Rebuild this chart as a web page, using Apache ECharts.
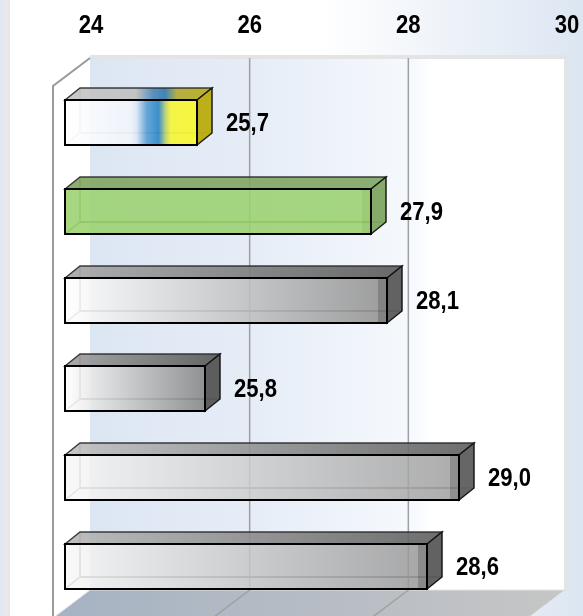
<!DOCTYPE html>
<html><head><meta charset="utf-8">
<style>html,body{margin:0;padding:0;background:#fff}#c{width:583px;height:616px}</style>
<script src="https://cdn.jsdelivr.net/npm/echarts@6/dist/echarts.min.js"></script></head>
<body><div id="c"></div>
<script>
var categories = ['A','B','C','D','E','F'];
var values = [25.7, 27.9, 28.1, 25.8, 29.0, 28.6];
var tickValues = [24, 26, 28, 30];
var tickLabels = ['24', '26', '28', '30'];
var FONT = '"Liberation Sans",Arial,sans-serif';
var DX = 15, DY = 12, H = 45, X0 = 65, BACK_GAP = 14, NARROW = 0.85;
function lg(x1,x2,stops){return {type:'linear',x:x1,y:0,x2:x2,y2:0,global:true,colorStops:stops.map(function(s){return {offset:s[0],color:s[1]};})};}
var styles = [
 {front:[[0,'#ffffff'],[.5,'#f0f4fb'],[.54,'#dde8f4'],[.62,'#5aa0d6'],[.71,'#2f86c6'],[.76,'#b8d070'],[.8,'#f5f53a'],[1,'#f8f82e']],
  top:[[0,'#c4c4c4'],[.48,'#c0c0c0'],[.6,'#4a86b8'],[.68,'#2f78b0'],[.76,'#b0a830'],[1,'#b8aa10']], side:'#b8ad0e', inner:'#999999', band:'rgba(120,120,40,0)', op:.92},
 {front:[[0,'#9bd170'],[1,'#9bd170']], top:[[0,'#7fa562'],[1,'#7fa562']], side:'#7fa562', inner:'#5c8a42', band:'rgba(90,130,60,.12)', op:.88},
 {front:[[0,'#ffffff'],[1,'#8e8e8e']], top:[[0,'#a8a8a8'],[1,'#585858']], side:'#5a5a5a', inner:'#777777', band:'rgba(60,60,60,.28)', op:.86},
 {front:[[0,'#ffffff'],[1,'#828282']], top:[[0,'#a0a0a0'],[1,'#555555']], side:'#555555', inner:'#777777', band:'rgba(60,60,60,0)', op:.86},
 {front:[[0,'#f8f8f8'],[1,'#9a9a9a']], top:[[0,'#c0c0c0'],[1,'#5e5e5e']], side:'#5e5e5e', inner:'#8a8a8a', band:'rgba(60,60,60,.28)', op:.82},
 {front:[[0,'#f8f8f8'],[1,'#949494']], top:[[0,'#b8b8b8'],[1,'#5e5e5e']], side:'#5a5a5a', inner:'#7a7a7a', band:'rgba(60,60,60,.28)', op:.82}
];
function frame(params, api){
  var L=90,R=565,T=58,B=590,LX=53,LY=86,BY=618;
  return {type:'group',children:[
    {type:'rect',shape:{x:L,y:T,width:R-L,height:B-T},style:{fill:lg(L,R,[[0,'#dce6f3'],[.35,'#e6edf7'],[.68,'#f6f9fd'],[.72,'#ffffff'],[1,'#ffffff']])}},
    {type:'rect',shape:{x:L,y:55,width:R-L+3,height:4},style:{fill:'#e4e4e4'}},
    {type:'rect',shape:{x:R-1,y:55,width:4,height:B-55+2},style:{fill:'#e4e4e4'}},
    {type:'polygon',shape:{points:[[L,B],[R,B],[R-37,BY],[LX,BY]]},style:{fill:lg(LX,R,[[0,'#a6b3c3'],[.5,'#b6bcc4'],[1,'#c6c6c6']]),stroke:'#e4e4e4',lineWidth:1}},
    {type:'polyline',shape:{points:[[L,T],[LX,LY],[LX,BY]]},style:{fill:'none',stroke:'#9a9a9a',lineWidth:2}}
  ]};
}
function tick(params, api){
  var v=api.value(0), x=api.coord([v,0])[0], kids=[];
  if(v>tickValues[0] && v<tickValues[tickValues.length-1]){
    kids.push({type:'polyline',shape:{points:[[x,58],[x,590],[x-37,618]]},style:{fill:'none',stroke:'#a0a0a0',lineWidth:1.5}});
  }
  kids.push({type:'text',x:x,y:26,scaleX:NARROW,style:{text:tickLabels[params.dataIndex],fill:'#000',font:'bold 26px '+FONT,align:'center',verticalAlign:'middle'}});
  return {type:'group',children:kids};
}
function bar(params, api){
  var c=api.coord([api.value(0),api.value(1)]);
  var s=styles[params.dataIndex];
  var x1=Math.round(c[0]-BACK_GAP-DX), y0=Math.round(c[1]-H/2), y1=y0+H, x0=X0;
  return {type:'group',children:[
    {type:'polyline',shape:{points:[[x0,y1],[x0+DX,y1-DY],[x0+DX,y0-DY]]},style:{fill:'none',stroke:s.inner,lineWidth:1.5}},
    {type:'polyline',shape:{points:[[x0+DX,y1-DY],[x1+DX,y1-DY]]},style:{fill:'none',stroke:s.inner,lineWidth:2}},
    {type:'polygon',shape:{points:[[x0,y0],[x0+DX,y0-DY],[x1+DX,y0-DY],[x1,y0]]},style:{fill:lg(x0,x1+DX,s.top),stroke:'#2a2a2a',lineWidth:1.5,opacity:.9}},
    {type:'polygon',shape:{points:[[x1,y0],[x1+DX,y0-DY],[x1+DX,y1-DY],[x1,y1]]},style:{fill:s.side,stroke:'#111',lineWidth:1.5,opacity:.95}},
    {type:'rect',shape:{x:x0,y:y0,width:x1-x0,height:H},style:{fill:lg(x0,x1,s.front),opacity:s.op}},
    {type:'rect',shape:{x:x1-9,y:y0,width:9,height:H},style:{fill:s.band}},
    {type:'rect',shape:{x:x0,y:y0,width:x1-x0,height:H},style:{fill:'none',stroke:'#000',lineWidth:2}},
    {type:'text',x:x1+DX+14,y:y0+H/2+1,scaleX:NARROW,style:{text:api.value(0).toFixed(1).replace('.',','),fill:'#000',font:'bold 26px '+FONT,align:'left',verticalAlign:'middle'}}
  ]};
}
var chart=echarts.init(document.getElementById('c'),null,{renderer:'canvas'});
chart.setOption({
  animation:false,
  backgroundColor:{type:'linear',x:0,y:0,x2:1,y2:0,colorStops:[{offset:0,color:'#ffffff'},{offset:.55,color:'#ffffff'},{offset:1,color:'#dce6f2'}]},
  graphic:[
    {type:'rect',z:0,shape:{x:0,y:0,width:3,height:616},style:{fill:'#dfe8f3'}},
    {type:'rect',z:0,shape:{x:3,y:0,width:7,height:616},style:{fill:'#e8e8e8'}}
  ],
  grid:{left:91,width:476,top:78,height:533},
  xAxis:{type:'value',position:'top',min:24,max:30,interval:2,
    axisLine:{show:false},axisTick:{show:false},splitLine:{show:false},axisLabel:{show:false}},
  yAxis:{type:'category',inverse:true,data:categories,show:false},
  series:[
    {type:'custom',coordinateSystem:'cartesian2d',silent:true,clip:false,z:1,data:[[24,0]],renderItem:frame},
    {type:'custom',coordinateSystem:'cartesian2d',silent:true,clip:false,z:2,data:tickValues.map(function(v){return [v,0];}),renderItem:tick},
    {type:'custom',coordinateSystem:'cartesian2d',silent:true,clip:false,z:3,data:values.map(function(v,i){return [v,i];}),renderItem:bar}
  ]
});
</script></body></html>
